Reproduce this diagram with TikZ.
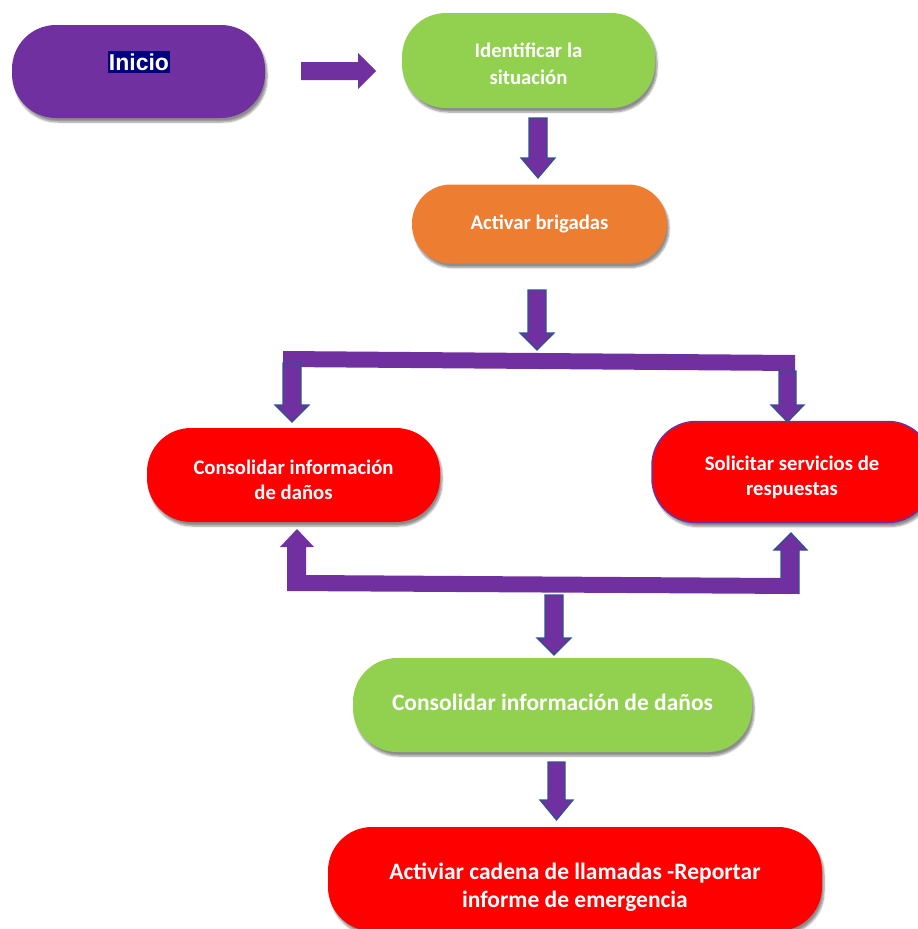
\documentclass[tikz,border=0pt]{standalone}
\usepackage{fontspec}
\setmainfont{Carlito}
\newfontfamily\arialfont{Liberation Sans}
\usetikzlibrary{shadows.blur}
\definecolor{pgreen}{HTML}{92D050}
\definecolor{porange}{HTML}{ED7D31}
\definecolor{pred}{HTML}{FF0000}
\definecolor{ppurple}{HTML}{7030A0}
\definecolor{pblue}{HTML}{2F528F}
\definecolor{pnavy}{HTML}{000080}
\newcommand\blkdown[5]{% x, body half width, top, head base, tip
  \fill[ppurple,draw=pblue,line width=1.2pt,line join=miter]
    (#1-#2,#3) -- (#1+#2,#3) -- (#1+#2,#4) -- (#1+#2+8,#4) -- (#1,#5)
    -- (#1-#2-8,#4) -- (#1-#2,#4) -- cycle;}
\tikzset{
  stadium/.style={rectangle, rounded corners=44pt,
    blur shadow={shadow xshift=2pt, shadow yshift=-4pt, shadow blur steps=6, shadow opacity=45}},
  smalltxt/.style={text=white, align=center, font=\bfseries\fontsize{20.7}{25}\selectfont},
  bigtxt/.style={text=white, align=center, font=\bfseries\fontsize{23.5}{28}\selectfont}
}
\begin{document}
\begin{tikzpicture}[x=1pt,y=-1pt]
\useasboundingbox (0,0) rectangle (918,929);
\begin{scope}
\clip (0,0) rectangle (918,929);
% shapes
\node[stadium, fill=ppurple, minimum width=253pt, minimum height=93pt] (inicio) at (138.5,71.5) {};
\node[stadium, fill=pgreen, minimum width=253pt, minimum height=95pt] (ident) at (528.5,60.5) {};
\node[stadium, rounded corners=39pt, fill=porange, minimum width=255pt, minimum height=79pt] (activar) at (539.5,224) {};
\node[stadium, fill=pred, minimum width=293pt, minimum height=94pt] (cons1) at (293.5,475) {};
\node[stadium, fill=pred, draw=ppurple, line width=1.5pt, minimum width=280pt, minimum height=101pt] (solic) at (792,472) {};
\node[stadium, fill=pgreen, minimum width=399pt, minimum height=94pt] (cons2) at (552.5,705) {};
\node[stadium, fill=pred, minimum width=494pt, minimum height=104pt] (final) at (575,879) {};
% texts
\node[fill=pnavy, text=white, inner xsep=1pt, inner ysep=3pt, font=\arialfont\bfseries\fontsize{23}{26}\selectfont] (iniciotxt) at (139,62) {Inicio};
\node[smalltxt, font=\bfseries\fontsize{20.7}{27}\selectfont] (identtxt) at (528.5,63.5) {Identificar la\\situación};
\node[smalltxt] (activartxt) at (539.5,224) {Activar brigadas};
\node[smalltxt] (cons1txt) at (293.5,480) {Consolidar información\\de daños};
\node[smalltxt] (solictxt) at (792,477) {Solicitar servicios de\\respuestas};
\node[bigtxt] (cons2txt) at (552.5,702) {Consolidar información de daños};
\node[bigtxt] (finaltxt) at (575,887.5) {Activiar cadena de llamadas -Reportar\\informe de emergencia};
% block arrows
\fill[ppurple] (301,62) -- (358,62) -- (358,53) -- (376,71) -- (358,89) -- (358,80) -- (301,80) -- cycle;
\blkdown{538}{9}{118}{158}{178}
\blkdown{537}{9}{290}{333}{350}
\fill[ppurple] (283,351) -- (795,355) -- (795,371) -- (283,367) -- cycle;
\blkdown{292}{9}{363}{405}{422}
\blkdown{787.5}{8.5}{371}{405}{422}
\fill[ppurple] (287,591) -- (287,547) -- (280,547) -- (297,529) -- (314,547) -- (306,547)
  -- (306,575) -- (781,578) -- (781,550) -- (774,550) -- (791,533) -- (807,550)
  -- (799,550) -- (799,594) -- cycle;
\draw[pblue,line width=1.2pt] (781,578) -- (781,550) -- (774,550) -- (791,533) -- (807,550) -- (799,550) -- (799,594);
\blkdown{554}{9}{595}{638}{655}
\blkdown{556.5}{8.5}{762}{800}{820}
\end{scope}
\end{tikzpicture}
\end{document}
